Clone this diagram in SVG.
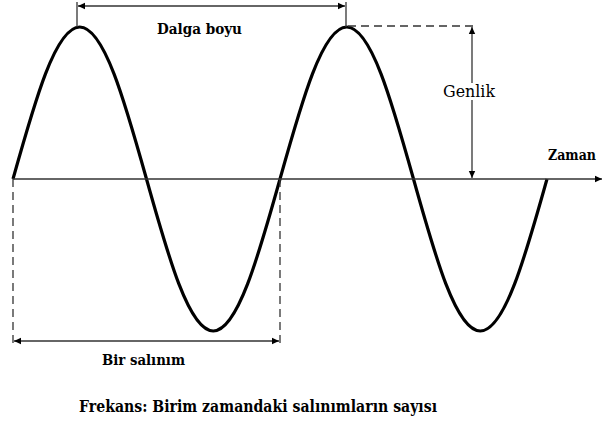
<svg xmlns="http://www.w3.org/2000/svg" width="603" height="424" viewBox="0 0 603 424">
<style>
text{font-family:'DejaVu Serif',serif;fill:#000}
.b{font-weight:bold}
.dim{stroke:#333;stroke-width:1.3;fill:none}
.dash{stroke:#333;stroke-width:1.3;fill:none;stroke-dasharray:8 5}
.wave{stroke:#000;stroke-width:3.2;fill:none;stroke-linejoin:round}
</style>
<defs>
<marker id="ah" markerUnits="userSpaceOnUse" markerWidth="8" markerHeight="8" refX="7" refY="4" orient="auto-start-reverse">
<path d="M0,0.8 L7,4 L0,7.2 Z" fill="#000"/>
</marker>
</defs>
<g id="wave">
<path class="wave" d="M13,179 C34.77,101.13 55.59,27 79.75,27 C103.91,27 124.73,101.13 146.5,179 C168.27,256.87 189.09,331 213.25,331 C237.41,331 258.23,256.87 280,179 C301.77,101.13 322.59,27 346.75,27 C370.91,27 391.73,101.13 413.5,179 C435.27,256.87 456.09,331 480.25,331 C504.41,331 525.23,256.87 547,179"/>
</g>
<g id="connectors">
<line class="dim" x1="13" y1="179" x2="602" y2="179" marker-end="url(#ah)"/>
<line class="dim" x1="77" y1="2" x2="77" y2="27"/>
<line class="dim" x1="346" y1="2" x2="346" y2="27"/>
<line class="dim" x1="78" y1="6" x2="345" y2="6" marker-start="url(#ah)" marker-end="url(#ah)"/>
<line class="dash" x1="348" y1="26" x2="473" y2="26"/>
<line class="dim" x1="472" y1="27" x2="472" y2="178" marker-start="url(#ah)" marker-end="url(#ah)"/>
<line class="dash" x1="13" y1="179" x2="13" y2="344"/>
<line class="dash" x1="280" y1="179" x2="280" y2="344"/>
<line class="dim" x1="14" y1="341" x2="279" y2="341" marker-start="url(#ah)" marker-end="url(#ah)"/>
</g>
<g id="label-dalga">
<text class="b" x="199.5" y="34" font-size="15" text-anchor="middle" textLength="85" lengthAdjust="spacingAndGlyphs">Dalga boyu</text>
</g>
<g id="label-genlik">
<rect x="441" y="83" width="56" height="17" fill="#fff"/>
<text x="469" y="97" font-size="16" text-anchor="middle" textLength="52" lengthAdjust="spacingAndGlyphs">Genlik</text>
</g>
<g id="label-zaman">
<text class="b" x="548" y="160" font-size="14" textLength="48" lengthAdjust="spacingAndGlyphs">Zaman</text>
</g>
<g id="label-salinim">
<text class="b" x="143.5" y="365" font-size="15" text-anchor="middle" textLength="83" lengthAdjust="spacingAndGlyphs">Bir salınım</text>
</g>
<g id="label-frekans">
<text class="b" x="79" y="412" font-size="16" textLength="358" lengthAdjust="spacingAndGlyphs">Frekans: Birim zamandaki salınımların sayısı</text>
</g>
</svg>
